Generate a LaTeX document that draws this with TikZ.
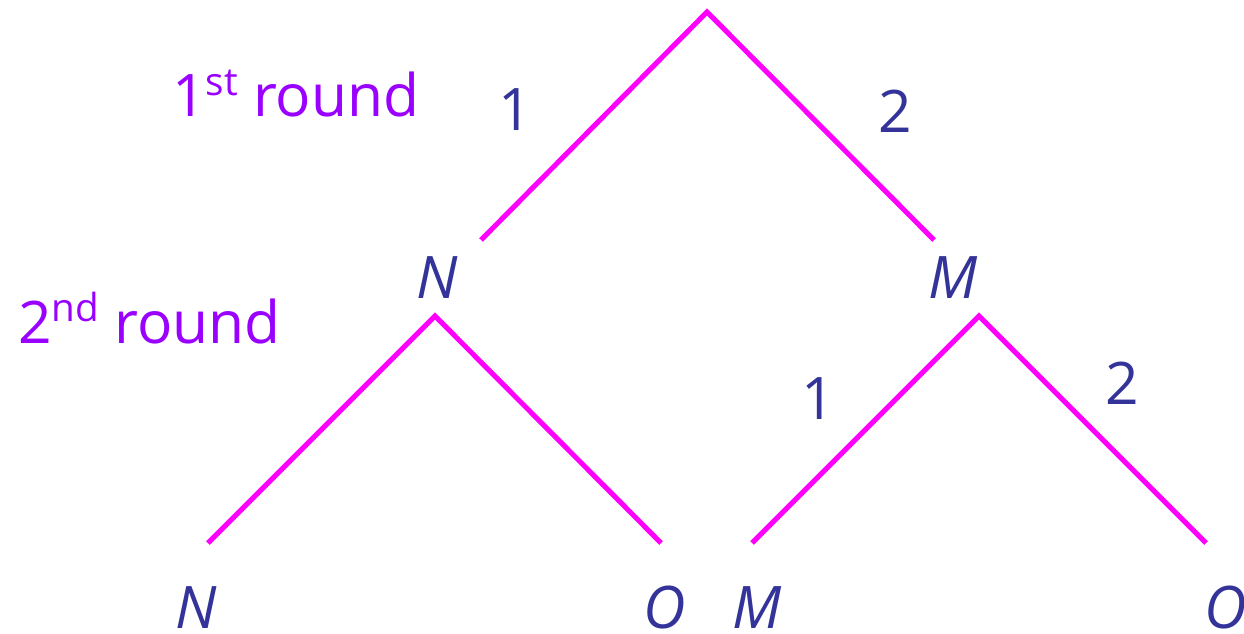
\documentclass[tikz,border=0pt]{standalone}
\usepackage{fontspec}
\setmainfont{Open Sans}
\newcommand{\ordsup}[1]{\raisebox{0.36em}{\fontsize{29}{30}\selectfont #1}}
\begin{document}
\begin{tikzpicture}[
  x=0.75pt, y=-0.75pt,
  font=\fontsize{44}{50}\selectfont,
  branch/.style={line width=3.8pt, draw={rgb,255:red,255;green,0;blue,255}},
  player/.style={inner sep=0pt, anchor=base, text={rgb,255:red,51;green,51;blue,153}, font=\fontsize{44}{50}\selectfont\itshape},
  choice/.style={inner sep=0pt, anchor=base, text={rgb,255:red,51;green,51;blue,153}},
  roundlbl/.style={inner sep=0pt, anchor=base west, text={rgb,255:red,153;green,0;blue,255}}
]
\useasboundingbox (0,0) rectangle (1244,634);
\clip (0,0) rectangle (1244,634);

% round labels
\node[roundlbl] (r1) at (172,117) {1\ordsup{st} round};
\node[roundlbl] (r2) at (18,343)  {2\ordsup{nd} round};

% first round
\coordinate (root) at (707,12);
\coordinate (endN) at (481,240);
\coordinate (endM) at (934,240);
\draw[branch] (endN) -- (root) -- (endM);
\node[choice] (c1) at (515,131) {1};
\node[choice] (c2) at (895,133) {2};

% second round nodes
\node[player] (pN) at (437,298) {N};
\node[player] (pM) at (953,298) {M};
\coordinate (topN) at (435,316);
\coordinate (topM) at (979,316);

% leaves
\coordinate (leafNN) at (208,543);
\coordinate (leafNO) at (661,543);
\coordinate (leafMM) at (752,543);
\coordinate (leafMO) at (1206,543);
\draw[branch] (leafNN) -- (topN) -- (leafNO);
\draw[branch] (leafMM) -- (topM) -- (leafMO);
\node[choice] (c3) at (818,419) {1};
\node[choice] (c4) at (1122,404) {2};

% outcomes
\node[player] (oN)  at (196,628) {N};
\node[player] (oO)  at (665,628) {O};
\node[player] (oM)  at (757,628) {M};
\node[player] (oO2) at (1226,628) {O};

\end{tikzpicture}
\end{document}
